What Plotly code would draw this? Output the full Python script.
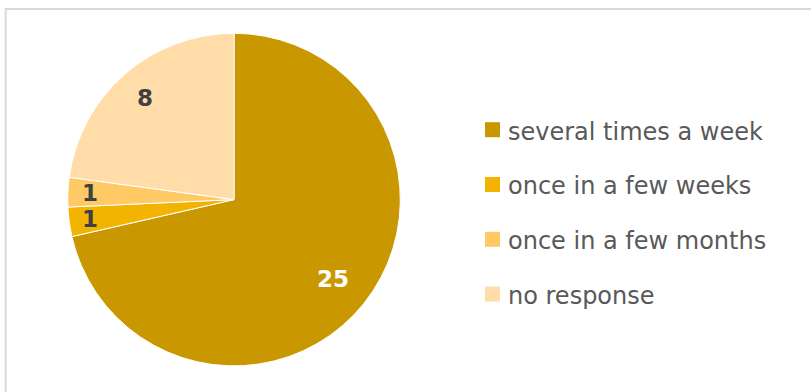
import math
import plotly.graph_objects as go

categories = ["several times a week", "once in a few weeks", "once in a few months", "no response"]
values = [25, 1, 1, 8]

colors = ["#C99800", "#F2B400", "#FFC966", "#FFDCA8"]
label_colors = ["#FFFFFF", "#404040", "#404040", "#404040"]
label_radius = [0.765, 0.875, 0.866, 0.81]

W, H = 811, 392
cx, cy, r = 234.0, 199.6, 166.3

fig = go.Figure()
fig.add_trace(go.Pie(
    labels=categories,
    values=values,
    sort=False,
    direction="clockwise",
    rotation=0,
    marker=dict(colors=colors, line=dict(color="#FFFFFF", width=1)),
    textinfo="none",
    hoverinfo="label+value",
    showlegend=False,
    domain=dict(x=[(cx - r) / W, (cx + r) / W],
                y=[(H - cy - r) / H, (H - cy + r) / H]),
))

annotations = []
shapes = []
total = sum(values)
cum = 0
for i, v in enumerate(values):
    mid = (cum + v / 2) / total * 2 * math.pi
    cum += v
    px = cx + label_radius[i] * r * math.sin(mid)
    py = cy - label_radius[i] * r * math.cos(mid)
    annotations.append(dict(
        x=px / W, y=1 - py / H, xref="paper", yref="paper",
        text="<b>%d</b>" % v, showarrow=False,
        xanchor="center", yanchor="middle",
        font=dict(family="DejaVu Sans", size=23, color=label_colors[i]),
    ))

# legend
leg_x, leg_y0, leg_dy, sq = 485, 129.7, 54.8, 15
for i, name in enumerate(categories):
    yc = leg_y0 + i * leg_dy
    shapes.append(dict(type="rect", xref="paper", yref="paper",
                       x0=leg_x / W, x1=(leg_x + sq) / W,
                       y0=1 - (yc + sq / 2) / H, y1=1 - (yc - sq / 2) / H,
                       fillcolor=colors[i], line=dict(width=0)))
    annotations.append(dict(
        x=(leg_x + sq + 6) / W, y=1 - (yc + 2) / H, xref="paper", yref="paper",
        text=name, showarrow=False, xanchor="left", yanchor="middle",
        font=dict(family="DejaVu Sans", size=24, color="#595959"),
    ))

# chart border
shapes.append(dict(type="rect", xref="paper", yref="paper",
                   x0=5.7 / W, x1=1.05, y0=-0.05, y1=1 - 9 / H,
                   line=dict(color="#D9D9D9", width=2), fillcolor="rgba(0,0,0,0)",
                   layer="below"))

fig.update_layout(
    width=W, height=H,
    margin=dict(l=0, r=0, t=0, b=0),
    paper_bgcolor="#FFFFFF",
    plot_bgcolor="#FFFFFF",
    annotations=annotations,
    shapes=shapes,
)

fig.write_html("out.html")
